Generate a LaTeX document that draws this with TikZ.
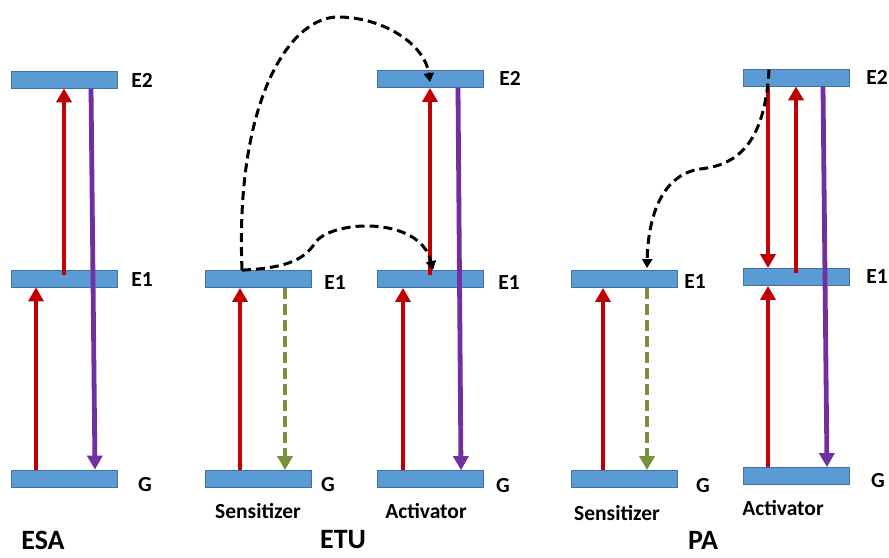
\documentclass[tikz,border=0pt]{standalone}
\usepackage{fontspec}
\setmainfont{Carlito}
\usetikzlibrary{arrows.meta}
\definecolor{barfill}{RGB}{91,155,213}
\definecolor{barline}{RGB}{65,113,156}
\definecolor{upred}{RGB}{192,0,0}
\definecolor{downviolet}{RGB}{112,48,160}
\definecolor{relaxgreen}{RGB}{118,146,60}
\begin{document}
\begin{tikzpicture}[x=1pt,y=-1pt,
  level/.style={draw=barline,line width=0.8pt,fill=barfill,rectangle,
    minimum width=106pt,minimum height=17pt,inner sep=0pt},
  lvltext/.style={font=\fontsize{21.5}{25}\selectfont\bfseries,inner sep=0pt},
  caption/.style={font=\fontsize{28}{31}\selectfont\bfseries,inner sep=0pt},
  pump/.style={draw=upred,line width=4.8pt,-{Triangle[width=15pt,length=14pt]}},
  emit/.style={draw=downviolet,line width=4.8pt,-{Triangle[width=15pt,length=14pt]}},
  relax/.style={draw=relaxgreen,line width=4.8pt,dash pattern=on 11pt off 5pt,
    -{Triangle[width=15pt,length=14pt]}},
  transfer/.style={draw=black,line width=3pt,dash pattern=on 9pt off 5pt,
    -{Triangle[width=10pt,length=9pt]}}]
\useasboundingbox (0,0) rectangle (889,557);

% ---- energy levels ----
\node[level] (esaE2) at (64,79.5) {};
\node[level] (esaE1) at (64,278.5) {};
\node[level] (esaG)  at (64,478.5) {};

\node[level] (etuSE1) at (258,279) {};
\node[level] (etuSG)  at (258,479) {};
\node[level] (etuAE2) at (430,79) {};
\node[level] (etuAE1) at (430,279) {};
\node[level] (etuAG)  at (430,479) {};

\node[level] (paSE1) at (624,279) {};
\node[level] (paSG)  at (624,479) {};
\node[level] (paAE2) at (796,77.5) {};
\node[level] (paAE1) at (796,277) {};
\node[level] (paAG)  at (796,476) {};

% ---- level labels ----
\node[lvltext] (tEsaE2) at (142,80) {E2};
\node[lvltext] (tEsaE1) at (142,280) {E1};
\node[lvltext] (tEsaG)  at (145,485) {G};

\node[lvltext] (tEtuSE1) at (335,283) {E1};
\node[lvltext] (tEtuSG)  at (328,485) {G};
\node[lvltext] (tEtuS)   at (258,511) {Sensitizer};
\node[lvltext] (tEtuAE2) at (510,78) {E2};
\node[lvltext] (tEtuAE1) at (509,283) {E1};
\node[lvltext] (tEtuAG)  at (503,486) {G};
\node[lvltext] (tEtuA)   at (426,511) {Activator};

\node[lvltext] (tPaSE1) at (695,282) {E1};
\node[lvltext] (tPaSG)  at (703,486) {G};
\node[lvltext] (tPaS)   at (617,513) {Sensitizer};
\node[lvltext] (tPaAE2) at (877,77) {E2};
\node[lvltext] (tPaAE1) at (877,277) {E1};
\node[lvltext] (tPaAG)  at (878,481) {G};
\node[lvltext] (tPaA)   at (783,508) {Activator};

\node[caption] (capEsa) at (43,540) {ESA};
\node[caption] (capEtu) at (343,540) {ETU};
\node[caption] (capPa)  at (703,540) {PA};

% ---- ESA ----
\draw[pump] ([xshift=-28pt]esaG.north) -- ([xshift=-28pt]esaE1.south);
\draw[pump] ([yshift=-5pt]esaE1.north) -- (esaE2.south);
\draw[emit] ([xshift=27pt]esaE2.south) -- ([xshift=31pt]esaG.north);

% ---- ETU ----
\draw[pump]  ([xshift=-18pt]etuSG.north) -- ([xshift=-18pt]etuSE1.south);
\draw[relax] ([xshift=27pt]etuSE1.south) -- ([xshift=27pt]etuSG.north);
\draw[pump]  ([xshift=-27pt]etuAG.north) -- ([xshift=-27pt]etuAE1.south);
\draw[pump]  ([yshift=-5pt]etuAE1.north) -- (etuAE2.south);
\draw[emit]  ([xshift=28pt]etuAE2.south) -- ([xshift=31pt]etuAG.north);

\draw[transfer] ([xshift=-16pt]etuSE1.north)
  .. controls (235,100) and (290,15) .. (340,17)
  .. controls (385,18) and (425,45) .. ([yshift=-12pt]etuAE2.north);
\draw[transfer] ([xshift=-16pt]etuSE1.north)
  .. controls (290,268) and (305,258) .. (315,243)
  .. controls (330,220) and (420,215) .. ([xshift=3pt]etuAE1.north);

% ---- PA ----
\draw[pump]  ([xshift=-21pt]paSG.north) -- ([xshift=-21pt]paSE1.south);
\draw[relax] ([xshift=23pt]paSE1.south) -- ([xshift=23pt]paSG.north);
\draw[pump]  ([xshift=-28pt]paAG.north) -- ([xshift=-28pt]paAE1.south);
\draw[pump]  ([xshift=-28pt]paAE2.south) -- ([xshift=-28pt]paAE1.north);
\draw[pump]  ([yshift=-5pt]paAE1.north) -- (paAE2.south);
\draw[emit]  ([xshift=27pt]paAE2.south) -- ([xshift=31pt]paAG.north);

\draw[transfer] ([xshift=-27pt,yshift=-1pt]paAE2.north)
  .. controls (765,140) and (740,165) .. (700,169)
  .. controls (660,175) and (648,220) .. ([xshift=23pt,yshift=2pt]paSE1.north);
\end{tikzpicture}
\end{document}
